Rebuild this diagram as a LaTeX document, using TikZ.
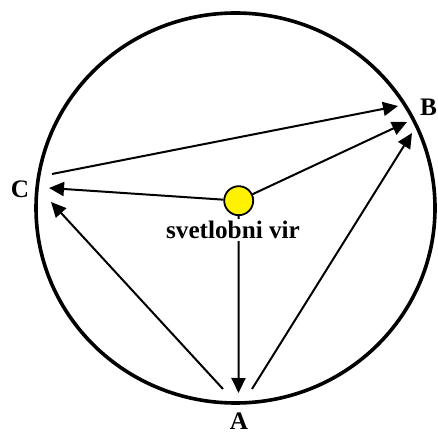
\documentclass[tikz,border=0pt]{standalone}
\usepackage{fontspec}
\setmainfont{Liberation Serif}
\usetikzlibrary{arrows.meta}

\begin{document}
\begin{tikzpicture}[x=0.5pt, y=-0.5pt, line width=1pt,
    zarek/.style={-{Triangle[length=7.5pt, width=7pt]}},
    oznaka/.style={font=\fontsize{12.6}{15}\selectfont\bfseries}]
    \useasboundingbox (0,0) rectangle (438,432);

    % Krog
    \draw[line width=1.8pt] (235.5,208) ellipse [x radius=99.75pt, y radius=97.5pt];

    % Svetlobni vir
    \node[circle, draw, fill=yellow, minimum size=14.5pt, inner sep=0pt, line width=0.9pt] (vir) at (238.7,200.7) {};

    % Oznake tock A, B, C
    \node[oznaka] (A) at (239,421) {A};
    \node[oznaka] (B) at (428.5,107) {B};
    \node[oznaka] (C) at (20,189) {C};

    % Konci zarkov
    \coordinate (cB) at (398,106);
    \coordinate (cC) at (52,174);
    \coordinate (vB) at (407,122);
    \coordinate (vC) at (49,188);
    \coordinate (vA) at (238.5,393);
    \coordinate (aB) at (412,133);
    \coordinate (aR) at (252,389);
    \coordinate (aC) at (51,202);
    \coordinate (aL) at (223,389);

    % Zarki
    \draw[zarek] (vir) -- (vB);
    \draw[zarek] (vir) -- (vC);
    \draw[zarek] (vir) -- (vA);
    \draw[zarek] (cC) -- (cB);
    \draw[zarek] (aR) -- (aB);
    \draw[zarek] (aL) -- (aC);

    % Napis pod virom
    \node[oznaka, fill=white, inner sep=1pt] (napis) at (233,230) {svetlobni vir};

\end{tikzpicture}
\end{document}
